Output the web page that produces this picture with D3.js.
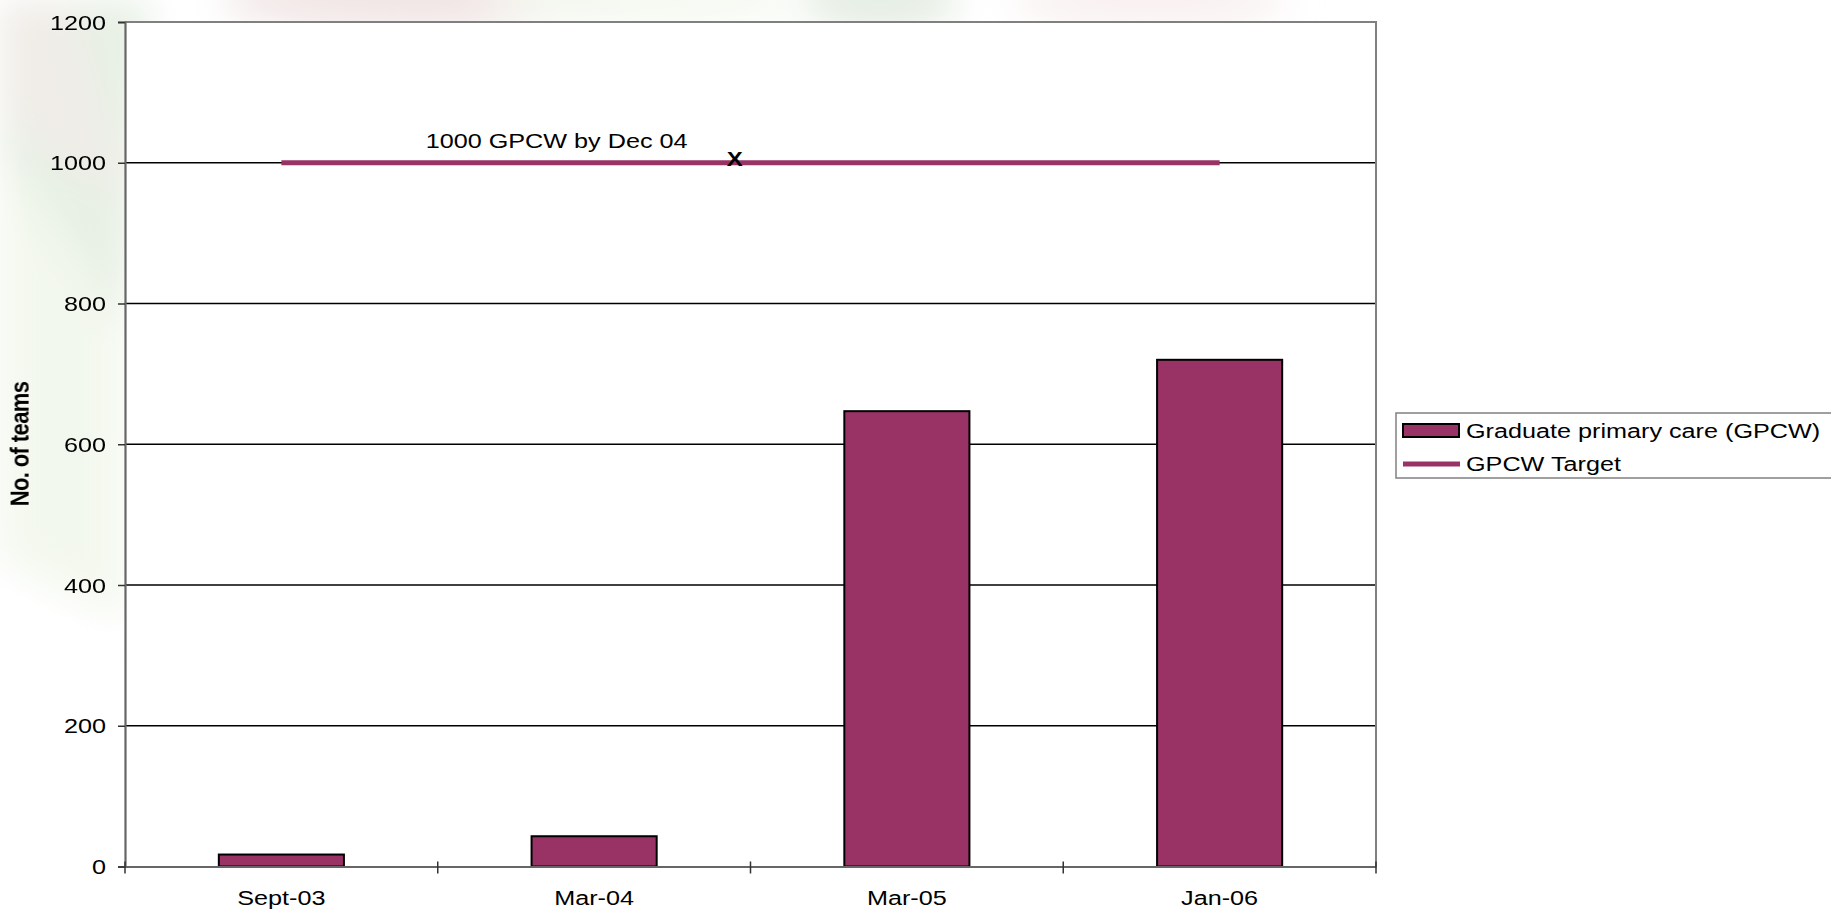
<!DOCTYPE html>
<html>
<head>
<meta charset="utf-8">
<script src="https://cdn.jsdelivr.net/npm/d3@7"></script>
<style>
  html, body { margin: 0; padding: 0; background: #ffffff; }
  svg { display: block; }
  text { font-family: "Liberation Sans", Arial, sans-serif; fill: #000; }
</style>
</head>
<body>
<svg id="chart" width="1831" height="909"></svg>
<script>
// ---- data ----
const categories = ["Sept-03", "Mar-04", "Mar-05", "Jan-06"];
const gpcwValues = [17, 43, 647, 720];
const targetValues = [1000, 1000, 1000, 1000];
const yTicks = [0, 200, 400, 600, 800, 1000, 1200];
const seriesNames = ["Graduate primary care (GPCW)", "GPCW Target"];
const yTitle = "No. of teams";
const annotationText = "1000 GPCW by Dec 04";
const annotationMarker = "X";
// annotation positions in category-index units along the target value
const annotationTextAt = 0.88;
const annotationMarkerAt = 1.45;

// ---- layout ----
const W = 1831, H = 909;
const plot = { left: 125, right: 1376, top: 22, bottom: 866.5 };
const barColor = "#993366";
const stretch = 1.2; // horizontal stretch of the original picture's text

const svg = d3.select("#chart");

// faint watermark background
const defs = svg.append("defs");
const blur = defs.append("filter").attr("id", "blur").attr("x", "-50%").attr("y", "-50%").attr("width", "200%").attr("height", "200%");
blur.append("feGaussianBlur").attr("stdDeviation", 18);
const wm = svg.append("g").attr("filter", "url(#blur)");
wm.append("path").attr("d", "M0,0 L150,0 L125,330 L0,150 Z").attr("fill", "#e6eee2").attr("opacity", 0.9);
wm.append("path").attr("d", "M0,150 L125,330 L125,620 L0,560 Z").attr("fill", "#f2f7ec").attr("opacity", 0.9);
wm.append("path").attr("d", "M0,0 L70,0 L125,200 L0,120 Z").attr("fill", "#f3ecea").attr("opacity", 0.7);
wm.append("ellipse").attr("cx", 420).attr("cy", 0).attr("rx", 200).attr("ry", 30).attr("fill", "#f0e2e2").attr("opacity", 0.9);
wm.append("ellipse").attr("cx", 640).attr("cy", 0).attr("rx", 160).attr("ry", 26).attr("fill", "#f4f8ef").attr("opacity", 0.9);
wm.append("ellipse").attr("cx", 880).attr("cy", 0).attr("rx", 80).attr("ry", 30).attr("fill", "#e2ebe0").attr("opacity", 0.9);
wm.append("ellipse").attr("cx", 1150).attr("cy", 0).attr("rx", 140).attr("ry", 24).attr("fill", "#f3e4e4").attr("opacity", 0.6);

// ---- scales ----
const x = d3.scaleBand().domain(categories).range([plot.left, plot.right]).paddingInner(0.6).paddingOuter(0.3);
const y = d3.scaleLinear().domain([0, 1200]).range([plot.bottom, plot.top]);
const step = x.step();
const center = c => x(c) + x.bandwidth() / 2;
const idxX = i => x(categories[0]) + x.bandwidth() / 2 + i * step;

// plot area
svg.append("rect").attr("x", plot.left).attr("y", plot.top)
  .attr("width", plot.right - plot.left).attr("height", plot.bottom - plot.top)
  .attr("fill", "#ffffff");

// gridlines
svg.append("g").selectAll("line").data(yTicks.filter(t => t > 0 && t < 1200)).join("line")
  .attr("x1", plot.left).attr("x2", plot.right)
  .attr("y1", d => y(d)).attr("y2", d => y(d))
  .attr("stroke", "#000").attr("stroke-width", 1.3);

// plot border (top and right)
svg.append("path")
  .attr("d", `M${plot.left},${y(1200)} H${plot.right} V${plot.bottom}`)
  .attr("fill", "none").attr("stroke", "#808080").attr("stroke-width", 2);

// bars
svg.append("g").selectAll("rect").data(categories).join("rect")
  .attr("x", d => x(d)).attr("width", x.bandwidth())
  .attr("y", (d, i) => y(gpcwValues[i]))
  .attr("height", (d, i) => y(0) - y(gpcwValues[i]))
  .attr("fill", barColor).attr("stroke", "#000").attr("stroke-width", 2);

// y axis
const yAxis = svg.append("g").attr("transform", `translate(${plot.left},0)`)
  .call(d3.axisLeft(y).tickValues(yTicks).tickSize(7).tickFormat(""));
yAxis.select(".domain").attr("stroke", "#666").attr("stroke-width", 2.2);
yAxis.selectAll(".tick line").attr("stroke", "#333").attr("stroke-width", 1.5);

// y tick labels (stretched horizontally like the original)
svg.append("g").selectAll("g").data(yTicks).join("g")
  .attr("transform", d => `translate(106,${y(d) + 7.5}) scale(${stretch},1)`)
  .append("text").attr("text-anchor", "end").attr("font-size", 21).text(d => d);

// x axis
const xAxis = svg.append("g").attr("transform", `translate(0,${plot.bottom})`)
  .call(d3.axisBottom(x).tickSize(0).tickFormat(""));
xAxis.select(".domain").attr("stroke", "#666").attr("stroke-width", 2.2);
svg.append("g").selectAll("line").data(d3.range(categories.length + 1)).join("line")
  .attr("x1", i => plot.left + i * step).attr("x2", i => plot.left + i * step)
  .attr("y1", plot.bottom - 5).attr("y2", plot.bottom + 7)
  .attr("stroke", "#333").attr("stroke-width", 1.5);

// x tick labels
svg.append("g").selectAll("g").data(categories).join("g")
  .attr("transform", d => `translate(${center(d)},905) scale(${stretch},1)`)
  .append("text").attr("text-anchor", "middle").attr("font-size", 21).text(d => d);

// target line
const line = d3.line().x((d, i) => center(categories[i])).y(d => y(d));
svg.append("path").datum(targetValues)
  .attr("d", line).attr("fill", "none")
  .attr("stroke", barColor).attr("stroke-width", 5);

// annotation
svg.append("g").attr("transform", `translate(${idxX(annotationTextAt)},${y(1000) - 14.5}) scale(${stretch},1)`)
  .append("text").attr("text-anchor", "middle").attr("font-size", 21).text(annotationText);
svg.append("g").attr("transform", `translate(${idxX(annotationMarkerAt)},${y(1000) + 3}) scale(${stretch},1)`)
  .append("text").attr("text-anchor", "middle").attr("font-size", 20).attr("font-weight", "bold").text(annotationMarker);

// y axis title
svg.append("g").attr("transform", `translate(29,444) scale(${stretch},1) rotate(-90)`)
  .append("text").attr("text-anchor", "middle").attr("font-size", 22).attr("font-weight", "bold")
  .attr("letter-spacing", -0.6).text(yTitle);

// legend
const lg = svg.append("g");
lg.append("rect").attr("x", 1396).attr("y", 413).attr("width", 450).attr("height", 65)
  .attr("fill", "#fff").attr("stroke", "#808080").attr("stroke-width", 1.5);
lg.append("rect").attr("x", 1403).attr("y", 424).attr("width", 56).attr("height", 13)
  .attr("fill", barColor).attr("stroke", "#000").attr("stroke-width", 2);
lg.append("line").attr("x1", 1403).attr("x2", 1460).attr("y1", 464).attr("y2", 464)
  .attr("stroke", barColor).attr("stroke-width", 5);
lg.selectAll("g.item").data(seriesNames).join("g").attr("class", "item")
  .attr("transform", (d, i) => `translate(1466,${437.5 + i * 33}) scale(${stretch},1)`)
  .append("text").attr("font-size", 21).text(d => d);
</script>
</body>
</html>
